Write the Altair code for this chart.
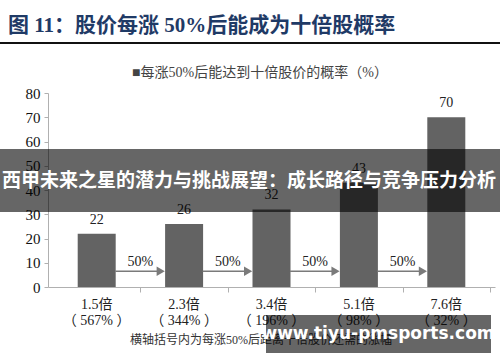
import altair as alt
import pandas as pd

# ---- data ----
categories = ["1.5倍", "2.3倍", "3.4倍", "5.1倍", "7.6倍"]
remaining = ["（ 567% ）", "（ 344% ）", "（ 196% ）", "（ 98% ）", "（ 32% ）"]
probability = [22, 26, 32, 43, 70]
step_labels = ["50%", "50%", "50%", "50%"]
arrow_level = 6.5
y_ticks = [0, 10, 20, 30, 40, 50, 60, 70, 80]

title_text = "图 11：股价每涨 50%后能成为十倍股概率"
legend_text = "■每涨50%后能达到十倍股价的概率（%）"
footnote_text = "横轴括号内为每涨50%后距离十倍股价还需的涨幅"
banner_text = "西甲未来之星的潜力与挑战展望：成长路径与竞争压力分析"
watermark_text = "www.tiyu-pmsports.com"

SERIF = "Liberation Serif, Noto Sans CJK SC"
BAR_HALF = 19 / 89.4  # half bar width in category units

bars_df = pd.DataFrame({
    "pos": list(range(len(categories))),
    "cat": categories,
    "rem": remaining,
    "p": probability,
})
arrows_df = pd.DataFrame({
    "mid": [i + 0.5 for i in range(len(step_labels))],
    "x0": [i + BAR_HALF for i in range(len(step_labels))],
    "x1": [i + 1 - BAR_HALF - 0.06 for i in range(len(step_labels))],
    "head": [i + 1 - BAR_HALF - 0.055 for i in range(len(step_labels))],
    "lab": step_labels,
    "lvl": [arrow_level] * len(step_labels),
})

xscale = alt.Scale(domain=[-0.5, 4.5], nice=False, zero=False)
yscale = alt.Scale(domain=[0, 80], nice=False)

xaxis = alt.Axis(values=[0.5, 1.5, 2.5, 3.5, 4.5], labels=False, title=None,
                 grid=False, domainColor="#b0b0b0", tickColor="#b0b0b0", tickSize=5)
yaxis = alt.Axis(values=y_ticks, title=None, grid=False,
                 domainColor="#b0b0b0", tickColor="#b0b0b0", tickSize=4,
                 labelFont=SERIF, labelFontSize=15, labelColor="#111", labelPadding=4,
                 labelOverlap=False)


def X(field):
    return alt.X(field, scale=xscale, axis=xaxis, title=None)


def Y(field):
    return alt.Y(field, scale=yscale, axis=yaxis, title=None)


base = alt.Chart(bars_df)

bars = base.mark_bar(size=38, color="#636363").encode(x=X("pos:Q"), y=Y("p:Q"))
values = base.mark_text(font=SERIF, fontSize=14, color="#222", baseline="alphabetic", dy=-10).encode(
    x=X("pos:Q"), y=Y("p:Q"), text="p:Q"
)
cat1 = base.mark_text(font=SERIF, fontSize=14, color="#222", baseline="middle").encode(
    x=X("pos:Q"), y=alt.value(212), text="cat:N"
)
cat2 = base.mark_text(font=SERIF, fontSize=14, color="#222", baseline="middle").encode(
    x=X("pos:Q"), y=alt.value(228), text="rem:N"
)

arr = alt.Chart(arrows_df)
arrow_lines = arr.mark_rule(color="#7a7a7a", strokeWidth=1.5).encode(
    x=X("x0:Q"), x2="x1:Q", y=Y("lvl:Q")
)
arrow_heads = arr.mark_point(shape="triangle-right", filled=True, color="#7a7a7a",
                             size=90, opacity=1).encode(
    x=X("head:Q"), y=Y("lvl:Q")
)
arrow_text = arr.mark_text(font=SERIF, fontSize=14, color="#222", baseline="alphabetic", dy=-5).encode(
    x=X("mid:Q"), y=Y("lvl:Q"), text="lab:N"
)

one = alt.Data(values=[{"t": 1}])

title = alt.Chart(one).mark_text(text=title_text, font="Liberation Serif, Noto Sans CJK SC",
                                 fontWeight="bold", fontSize=21, color="#1f3a66",
                                 align="left", baseline="alphabetic").encode(
    x=alt.value(-40), y=alt.value(-61))
title_line = alt.Chart(one).mark_rule(color="#111", strokeWidth=2).encode(
    x=alt.value(-48), x2=alt.value(452), y=alt.value(-50))
legend = alt.Chart(one).mark_text(text=legend_text, font=SERIF, fontSize=14, color="#444",
                                  align="center", baseline="middle").encode(
    x=alt.value(212), y=alt.value(-20))
footnote = alt.Chart(one).mark_text(text=footnote_text, font=SERIF, fontSize=12, color="#333",
                                    align="left", baseline="middle").encode(
    x=alt.value(82), y=alt.value(247))

banner = alt.Chart(one).mark_rect(color="black", opacity=0.6).encode(
    x=alt.value(-48), x2=alt.value(452), y=alt.value(56), y2=alt.value(119))
banner_t = alt.Chart(one).mark_text(text=banner_text, font="Noto Sans CJK SC", fontWeight="bold",
                                    fontSize=19, color="white", align="center",
                                    baseline="middle").encode(
    x=alt.value(201), y=alt.value(88))
wm = alt.Chart(one).mark_rect(color="black", opacity=0.6).encode(
    x=alt.value(218), x2=alt.value(443), y=alt.value(222), y2=alt.value(260))
wm_t = alt.Chart(one).mark_text(text=watermark_text, font="DejaVu Sans", fontWeight="bold",
                                fontSize=17, color="white", align="center",
                                baseline="middle").encode(
    x=alt.value(330), y=alt.value(241))

chart = alt.layer(
    bars, values, cat1, cat2, arrow_lines, arrow_heads, arrow_text,
    title, title_line, legend, footnote,
    banner, banner_t, wm, wm_t,
).properties(
    width=447, height=194,
    autosize=alt.AutoSizeParams(type="none"),
    padding={"left": 48, "top": 93, "right": 5, "bottom": 75},
    background="white",
).configure_view(stroke=None)

chart.save("out.html", embed_options={"renderer": "svg", "actions": False})
